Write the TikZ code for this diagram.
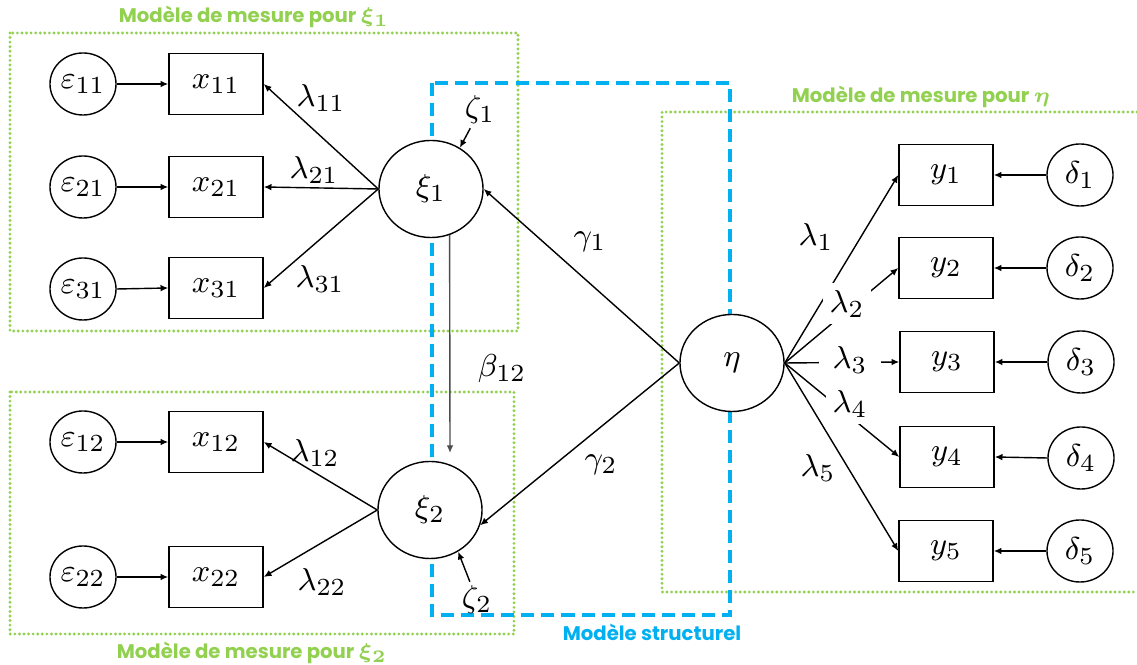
\documentclass[tikz,border=0pt]{standalone}
\usepackage{fontspec}
\newfontfamily\boxfont{Poppins}
\usetikzlibrary{shapes.geometric,arrows.meta}
\definecolor{mesgreen}{RGB}{146,208,80}
\definecolor{strblue}{RGB}{0,176,240}

\begin{document}
\begin{tikzpicture}[x=0.01cm, y=-0.01cm, font=\fontsize{9.5}{11}\selectfont,
	latent/.style={ellipse, draw, fill=white, line width=0.4pt, inner sep=0pt, minimum width=1.04cm, minimum height=0.97cm},
	errvar/.style={ellipse, draw, fill=white, line width=0.4pt, inner sep=0pt, minimum width=0.66cm, minimum height=0.62cm},
	obsvar/.style={rectangle, draw, fill=white, line width=0.4pt, inner sep=0pt, minimum width=0.94cm, minimum height=0.61cm},
	link/.style={-{Latex[length=2.2pt,width=1.9pt]}, line width=0.4pt},
	mesbox/.style={draw=mesgreen, line width=0.9pt, line cap=round, dash pattern=on 0pt off 1.3pt},
	strbox/.style={draw=strblue, line width=0.9pt, dash pattern=on 3.7pt off 2pt},
	meslabel/.style={text=mesgreen, font=\boxfont\bfseries\boldmath\fontsize{5.6}{7}\selectfont},
	strlabel/.style={text=strblue, font=\boxfont\bfseries\fontsize{5.6}{7}\selectfont},
	coef/.style={inner sep=1pt},
	coefcut/.style={fill=white, inner sep=2pt}]

\useasboundingbox (0,0) rectangle (1137,665);

% measurement and structural frames
\draw[mesbox] (10,33) rectangle (518,331);
\draw[mesbox] (10,392) rectangle (514,634);
\draw[mesbox] (1137,112) -- (662,112) -- (662,592) -- (1137,592);
\draw[strbox] (432,83) rectangle (730,615);

\node[meslabel] (lab1) at (254,17) {Modèle de mesure pour $\xi_1$};
\node[meslabel] (lab3) at (921,97) {Modèle de mesure pour $\eta$};
\node[meslabel] (lab2) at (252,653) {Modèle de mesure pour $\xi_2$};
\node[strlabel] (lab4) at (652,632) {Modèle structurel};

% xi_1 block
\node[errvar] (e11) at (83,84) {$\varepsilon_{11}$};
\node[errvar] (e21) at (83,187) {$\varepsilon_{21}$};
\node[errvar] (e31) at (83,289) {$\varepsilon_{31}$};
\node[obsvar] (x11) at (216,84) {$x_{11}$};
\node[obsvar] (x21) at (216,187) {$x_{21}$};
\node[obsvar] (x31) at (216,288) {$x_{31}$};
\node[latent] (xi1) at (431,189) {$\xi_1$};

% xi_2 block
\node[errvar] (e12) at (83,442) {$\varepsilon_{12}$};
\node[errvar] (e22) at (83,577) {$\varepsilon_{22}$};
\node[obsvar] (x12) at (216,442) {$x_{12}$};
\node[obsvar] (x22) at (216,577) {$x_{22}$};
\node[latent] (xi2) at (430,510) {$\xi_2$};

% eta block
\node[latent] (eta) at (732,363) {$\eta$};
\node[obsvar] (y1) at (946,175) {$y_1$};
\node[obsvar] (y2) at (946,268) {$y_2$};
\node[obsvar] (y3) at (947,362) {$y_3$};
\node[obsvar] (y4) at (947,457) {$y_4$};
\node[obsvar] (y5) at (946,551) {$y_5$};
\node[errvar] (d1) at (1080,175) {$\delta_1$};
\node[errvar] (d2) at (1080,268) {$\delta_2$};
\node[errvar] (d3) at (1081,362) {$\delta_3$};
\node[errvar] (d4) at (1081,458) {$\delta_4$};
\node[errvar] (d5) at (1080,551) {$\delta_5$};

\node[coef] (z1) at (480,110) {$\zeta_1$};
\node[coef] (z2) at (477,600) {$\zeta_2$};
\coordinate (b12) at (450,453);

% arrows
\draw[link] (e11.east) -- (x11.west);
\draw[link] (e21.east) -- (x21.west);
\draw[link] (e31.east) -- (x31.west);
\draw[link] (e12.east) -- (x12.west);
\draw[link] (e22.east) -- (x22.west);
\draw[link] (xi1.west) -- (x11.east);
\draw[link] (xi1.west) -- (x21.east);
\draw[link] (xi1.west) -- (x31.east);
\draw[link] (xi2.west) -- (x12.east);
\draw[link] (xi2.west) -- (x22.east);
\draw[link] (z1) -- (xi1.55);
\draw[link] (z2) -- (xi2.-56);
\draw[link, draw=black!70] (xi1.-68) -- (b12);
\draw[link] (eta.west) -- (xi1.east);
\draw[link] (eta.west) -- (xi2.-17);
\draw[link] (eta.east) -- (y1.west);
\draw[link] (eta.east) -- (y2.west);
\draw[link] (eta.east) -- (y3.west);
\draw[link] (eta.east) -- (y4.west);
\draw[link] (eta.east) -- (y5.west);
\draw[link] (d1.west) -- (y1.east);
\draw[link] (d2.west) -- (y2.east);
\draw[link] (d3.west) -- (y3.east);
\draw[link] (d4.west) -- (y4.east);
\draw[link] (d5.west) -- (y5.east);

% coefficients
\node[coef] (l11) at (321,98) {$\lambda_{11}$};
\node[coef] (l21) at (314,170) {$\lambda_{21}$};
\node[coef] (l31) at (320,279) {$\lambda_{31}$};
\node[coef] (l12) at (315,453) {$\lambda_{12}$};
\node[coef] (l22) at (322,582) {$\lambda_{22}$};
\node[coef] (b) at (502,369) {$\beta_{12}$};
\node[coef] (g1) at (590,242) {$\gamma_1$};
\node[coef] (g2) at (601,465) {$\gamma_2$};
\node[coef] (l1) at (816,237) {$\lambda_1$};
\node[coefcut] (l2) at (847,304) {$\lambda_2$};
\node[coefcut, inner xsep=4pt] (l3) at (850,360) {$\lambda_3$};
\node[coefcut] (l4) at (850,404) {$\lambda_4$};
\node[coef] (l5) at (818,468) {$\lambda_5$};

\end{tikzpicture}
\end{document}
